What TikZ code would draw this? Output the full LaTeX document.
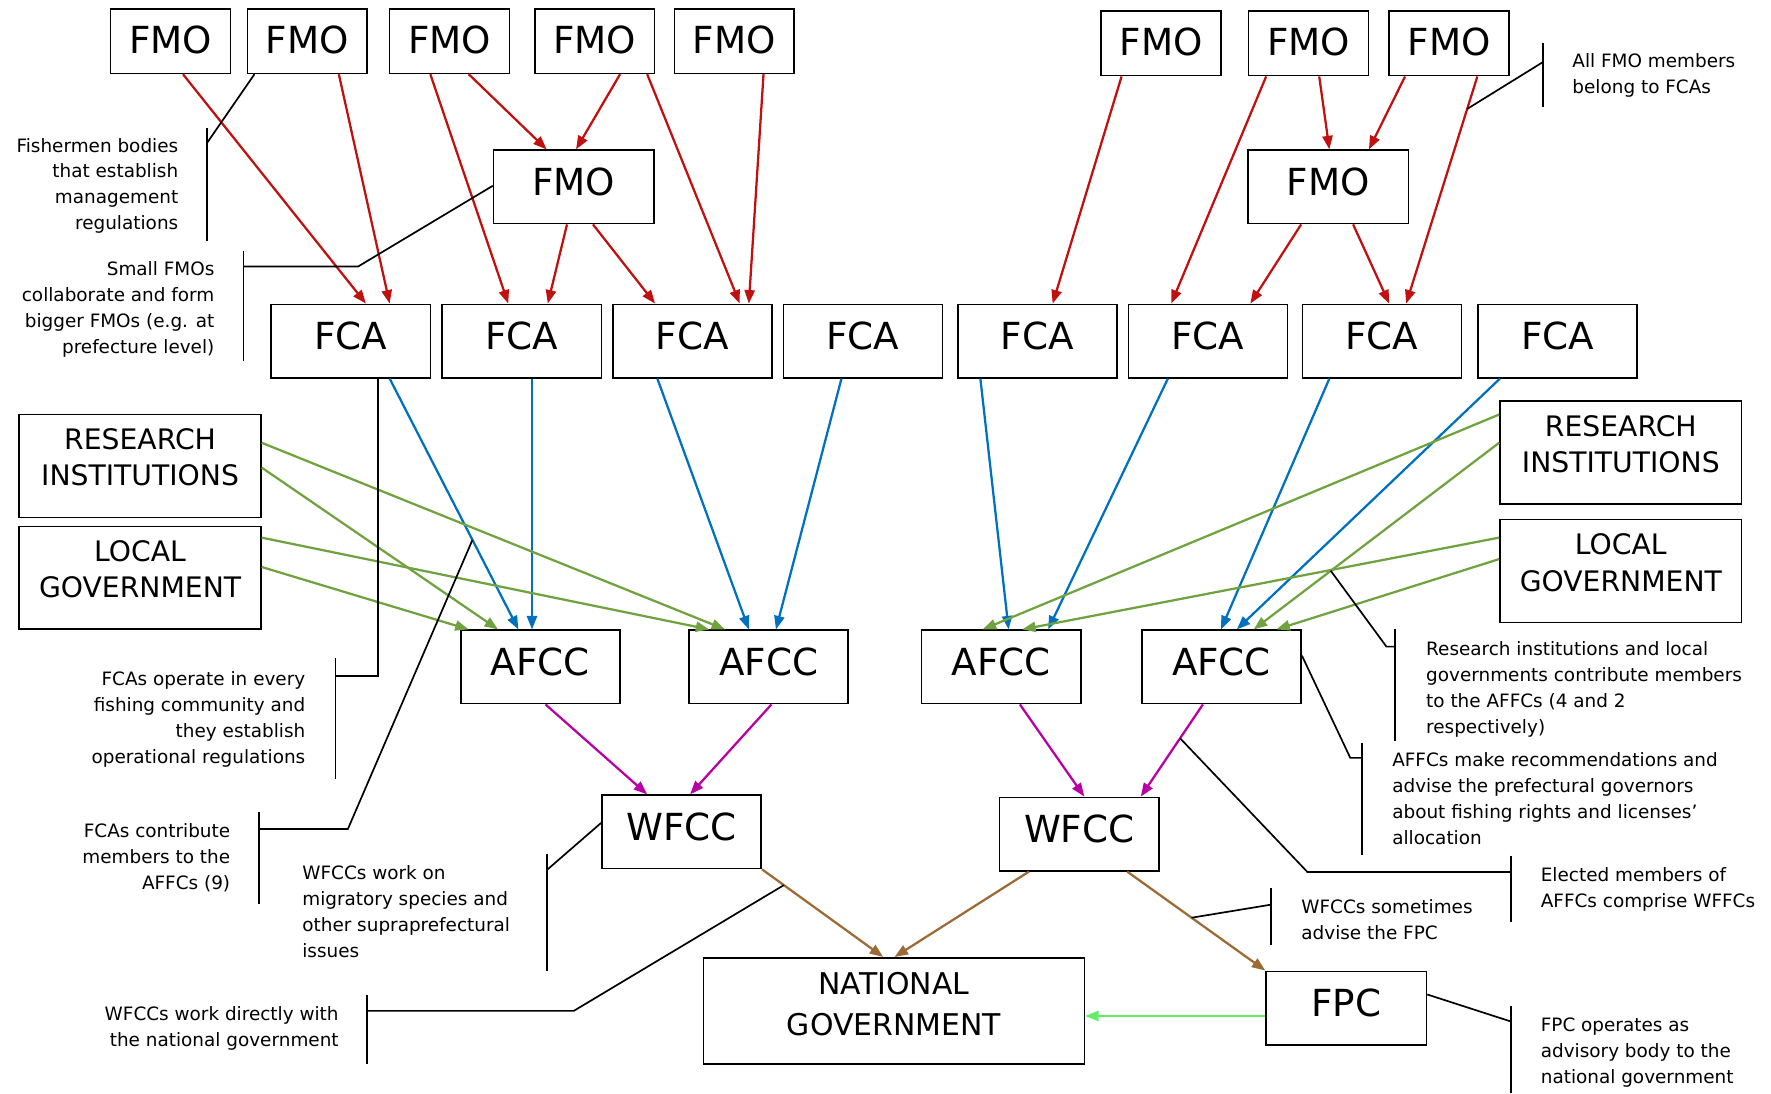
\documentclass[tikz,border=0pt]{standalone}
\usepackage{fontspec}
\setmainfont{DejaVu Sans}
\usepackage{tikz}
\usetikzlibrary{arrows.meta}
\definecolor{fmored}{RGB}{192,16,16}
\definecolor{fcablue}{RGB}{0,112,192}
\definecolor{membergreen}{RGB}{112,163,64}
\definecolor{afccpurple}{RGB}{184,0,164}
\definecolor{wfccbrown}{RGB}{156,106,52}
\definecolor{fpcgreen}{RGB}{102,235,102}
\newcommand{\padbelow}[1]{\rule[-#1]{0pt}{#1}}

\begin{document}
\begin{tikzpicture}[x=1pt, y=-1pt,
  box/.style={draw, rectangle, line width=1.4pt, inner sep=0pt, align=center},
  bigtext/.style={font=\fontsize{33}{40}\selectfont},
  smallbox/.style={box, bigtext, minimum width=106pt, minimum height=57pt, text depth=3pt},
  unitbox/.style={box, bigtext, minimum width=141pt, minimum height=65pt, text depth=9pt},
  sidebox/.style={box, font=\fontsize{25}{32}\selectfont, minimum width=214pt, minimum height=91pt},
  flow/.style={line width=2pt, -{Triangle[length=12pt,width=9pt]}},
  note/.style={line width=1.5pt},
  notetext/.style={inner sep=0pt, font=\fontsize{16.3}{23}\selectfont}]
\useasboundingbox (0,0) rectangle (1568,968);

\node[smallbox] (fmo1) at (151,36.5) {FMO};
\node[smallbox] (fmo2) at (272,36.5) {FMO};
\node[smallbox] (fmo3) at (398,36.5) {FMO};
\node[smallbox] (fmo4) at (526.5,36.5) {FMO};
\node[smallbox] (fmo5) at (650,36.5) {FMO};
\node[smallbox] (fmo6) at (1028,38.5) {FMO};
\node[smallbox] (fmo7) at (1158.5,38.5) {FMO};
\node[smallbox] (fmo8) at (1283,38.5) {FMO};
\node[unitbox, minimum width=142pt] (bigfmoL) at (508,165.5) {FMO};
\node[unitbox, minimum width=142pt] (bigfmoR) at (1176,165.5) {FMO};

\node[unitbox] (fca1) at (310.5,302) {FCA};
\node[unitbox] (fca2) at (462,302) {FCA};
\node[unitbox] (fca3) at (613,302) {FCA};
\node[unitbox] (fca4) at (764,302) {FCA};
\node[unitbox] (fca5) at (918.5,302) {FCA};
\node[unitbox] (fca6) at (1069.5,302) {FCA};
\node[unitbox] (fca7) at (1223.5,302) {FCA};
\node[unitbox] (fca8) at (1379,302) {FCA};

\node[sidebox] (researchL) at (124,412.5) {RESEARCH\\INSTITUTIONS\padbelow{16pt}};
\node[sidebox] (localL) at (124,511.5) {LOCAL\\GOVERNMENT\padbelow{16pt}};
\node[sidebox] (researchR) at (1435,400.5) {RESEARCH\\INSTITUTIONS\padbelow{15pt}};
\node[sidebox] (localR) at (1435,505.5) {LOCAL\\GOVERNMENT\padbelow{15pt}};

\node[unitbox] (afcc1) at (478.5,590.5) {AFCC};
\node[unitbox] (afcc2) at (680.5,590.5) {AFCC};
\node[unitbox] (afcc3) at (886.5,590.5) {AFCC};
\node[unitbox] (afcc4) at (1081.5,590.5) {AFCC};

\node[unitbox] (wfccL) at (603.5,736.5) {WFCC};
\node[unitbox] (wfccR) at (955.5,738.5) {WFCC};
\node[box, font=\fontsize{26.5}{36}\selectfont, minimum width=337pt, minimum height=94pt] (national) at (791.5,895) {NATIONAL\\GOVERNMENT\padbelow{12pt}};
\node[unitbox, minimum width=142pt] (fpc) at (1192,892.5) {FPC};

\draw[flow, fmored] ([xshift=11pt]fmo1.south) -- ([xshift=13.5pt]fca1.north);
\draw[flow, fmored] ([xshift=28pt]fmo2.south) -- ([xshift=34.5pt]fca1.north);
\draw[flow, fmored] ([xshift=-17pt]fmo3.south) -- ([xshift=-12pt]fca2.north);
\draw[flow, fmored] ([xshift=17pt]fmo3.south) -- ([xshift=-24pt]bigfmoL.north);
\draw[flow, fmored] ([xshift=22.5pt]fmo4.south) -- ([xshift=2pt]bigfmoL.north);
\draw[flow, fmored] ([xshift=46.5pt]fmo4.south) -- ([xshift=42pt]fca3.north);
\draw[flow, fmored] ([xshift=26pt]fmo5.south) -- ([xshift=50pt]fca3.north);
\draw[flow, fmored] ([xshift=-6pt]bigfmoL.south) -- ([xshift=23pt]fca2.north);
\draw[flow, fmored] ([xshift=17pt]bigfmoL.south) -- ([xshift=-33pt]fca3.north);
\draw[flow, fmored] ([xshift=-35pt]fmo6.south) -- ([xshift=13.5pt]fca5.north);
\draw[flow, fmored] ([xshift=-37.5pt]fmo7.south) -- ([xshift=-32.5pt]fca6.north);
\draw[flow, fmored] ([xshift=9.5pt]fmo7.south) -- ([xshift=1pt]bigfmoR.north);
\draw[flow, fmored] ([xshift=-39pt]fmo8.south) -- ([xshift=36pt]bigfmoR.north);
\draw[flow, fmored] ([xshift=25pt]fmo8.south) -- coordinate[pos=0.143] (redTie) ([xshift=21.5pt]fca7.north);
\draw[flow, fmored] ([xshift=-24pt]bigfmoR.south) -- ([xshift=37.5pt]fca6.north);
\draw[flow, fmored] ([xshift=22pt]bigfmoR.south) -- ([xshift=6.5pt]fca7.north);

\draw[flow, fcablue] ([xshift=34.5pt]fca1.south) -- coordinate[pos=0.643] (fcaTie) ([xshift=-19.5pt]afcc1.north);
\draw[flow, fcablue] ([xshift=9pt]fca2.south) -- ([xshift=-7.5pt]afcc1.north);
\draw[flow, fcablue] ([xshift=-31pt]fca3.south) -- ([xshift=-17.5pt]afcc2.north);
\draw[flow, fcablue] ([xshift=-19pt]fca4.south) -- ([xshift=6.5pt]afcc2.north);
\draw[flow, fcablue] ([xshift=-50.5pt]fca5.south) -- ([xshift=6.5pt]afcc3.north);
\draw[flow, fcablue] ([xshift=-35.5pt]fca6.south) -- ([xshift=41.5pt]afcc3.north);
\draw[flow, fcablue] ([xshift=-46.5pt]fca7.south) -- ([xshift=-0.5pt]afcc4.north);
\draw[flow, fcablue] ([xshift=-51pt]fca8.south) -- ([xshift=13.5pt]afcc4.north);

\draw[flow, membergreen] ([yshift=20.5pt]researchL.east) -- ([xshift=-38.5pt]afcc2.north);
\draw[flow, membergreen] ([yshift=-1.5pt]researchL.east) -- ([xshift=-37.5pt]afcc1.north);
\draw[flow, membergreen] ([yshift=35.5pt]localL.east) -- ([xshift=-52.5pt]afcc2.north);
\draw[flow, membergreen] ([yshift=9.5pt]localL.east) -- ([xshift=-63.5pt]afcc1.north);
\draw[flow, membergreen] ([yshift=33.5pt]researchR.west) -- ([xshift=-16.5pt]afcc3.north);
\draw[flow, membergreen] ([yshift=8.5pt]researchR.west) -- coordinate[pos=0.686] (greenTie) ([xshift=28.5pt]afcc4.north);
\draw[flow, membergreen] ([yshift=29.5pt]localR.west) -- ([xshift=18.5pt]afcc3.north);
\draw[flow, membergreen] ([yshift=10.5pt]localR.west) -- ([xshift=48.5pt]afcc4.north);

\draw[flow, afccpurple] ([xshift=4.5pt]afcc1.south) -- ([xshift=-30.5pt]wfccL.north);
\draw[flow, afccpurple] ([xshift=2.5pt]afcc2.south) -- ([xshift=7.5pt]wfccL.north);
\draw[flow, afccpurple] ([xshift=16.5pt]afcc3.south) -- ([xshift=4.5pt]wfccR.north);
\draw[flow, afccpurple] ([xshift=-16.5pt]afcc4.south) -- coordinate[pos=0.367] (purpleTie) ([xshift=54.5pt]wfccR.north);

\draw[flow, wfccbrown] (wfccL.south east) -- coordinate[pos=0.18] (brownTie) ([xshift=-9.5pt]national.north);
\draw[flow, wfccbrown] ([xshift=-44.5pt]wfccR.south) -- ([xshift=0.5pt]national.north);
\draw[flow, wfccbrown] ([xshift=42.5pt]wfccR.south) -- coordinate[pos=0.466] (fpcTie) (fpc.north west);
\draw[flow, fpcgreen] ([yshift=-7pt]fpc.west) -- ([yshift=-4.5pt]national.east);

\node[notetext, anchor=north east, align=right] (bodies) at (158,122) {Fishermen bodies\\that establish\\management\\regulations};
\draw[note] (183,113) -- (183,213);
\coordinate (bodiesTie) at (183,127);
\draw[note] (bodiesTie) -- ([xshift=7pt]fmo2.south west);

\node[notetext, anchor=north east, align=right] (collab) at (190,231) {Small FMOs\\collaborate and form\\bigger FMOs (e.g. at\\prefecture level)};
\draw[note] (215.5,222) -- (215.5,320);
\coordinate (collabTie) at (215.5,236);
\draw[note] (collabTie) -- (317,236) -- ([yshift=1pt]bigfmoL.west);

\node[notetext, anchor=north east, align=right] (operate) at (270.5,594) {FCAs operate in every\\fishing community and\\they establish\\operational regulations};
\draw[note] (297,583) -- (297,690);
\coordinate (operateTie) at (297,598.5);
\draw[note] (operateTie) -| ([xshift=24pt]fca1.south);

\node[notetext, anchor=north east, align=right] (contrib) at (204,729) {FCAs contribute\\members to the\\AFFCs (9)};
\draw[note] (229.5,719) -- (229.5,800);
\coordinate (contribTie) at (229.5,734);
\draw[note] (contribTie) -- (308,734) -- (fcaTie);

\node[notetext, anchor=north west, align=left] (migratory) at (267.5,766) {WFCCs work on\\migratory species and\\other supraprefectural\\issues};
\draw[note] (484.5,756) -- (484.5,860);
\coordinate (migratoryTie) at (484.5,770);
\draw[note] (migratoryTie) -- ([yshift=8pt]wfccL.west);

\node[notetext, anchor=north east, align=right] (direct) at (300,891) {WFCCs work directly with\\the national government};
\draw[note] (325,881) -- (325,942);
\coordinate (directTie) at (325,895);
\draw[note] (directTie) -- (508,895) -- (brownTie);

\node[notetext, anchor=north west, align=left] (belong) at (1392,47.5) {All FMO members\\belong to FCAs};
\draw[note] (1366,38) -- (1366,95);
\coordinate (belongTie) at (1366,55);
\draw[note] (belongTie) -- (redTie);

\node[notetext, anchor=north west, align=left] (members) at (1262.5,568) {Research institutions and local\\governments contribute members\\to the AFFCs (4 and 2\\respectively)};
\draw[note] (1235,557) -- (1235,656);
\coordinate (membersTie) at (1235,572.5);
\draw[note] (membersTie) -- (1227.5,572.5) -- (greenTie);

\node[notetext, anchor=north west, align=left] (advise) at (1232.5,666) {AFFCs make recommendations and\\advise the prefectural governors\\about fishing rights and licenses'\\allocation};
\draw[note] (1206,658) -- (1206,757);
\coordinate (adviseTie) at (1206,671);
\draw[note] ([yshift=10pt]afcc4.east) -- (1195.5,671) -- (adviseTie);

\node[notetext, anchor=north west, align=left] (elected) at (1364,767.5) {Elected members of\\AFFCs comprise WFFCs};
\draw[note] (1338,757.5) -- (1338,816);
\coordinate (electedTie) at (1338,772);
\draw[note] (electedTie) -- (1157.5,772) -- (purpleTie);

\node[notetext, anchor=north west, align=left] (sometimes) at (1152,796) {WFCCs sometimes\\advise the FPC};
\draw[note] (1125,786) -- (1125,837);
\coordinate (sometimesTie) at (1125,801);
\draw[note] (sometimesTie) -- (fpcTie);

\node[notetext, anchor=north west, align=left] (advisory) at (1364,901) {FPC operates as\\advisory body to the\\national government};
\draw[note] (1338,890.5) -- (1338,968);
\coordinate (advisoryTie) at (1338,904.5);
\draw[note] ([yshift=12pt]fpc.east) -- (advisoryTie);
\end{tikzpicture}
\end{document}
